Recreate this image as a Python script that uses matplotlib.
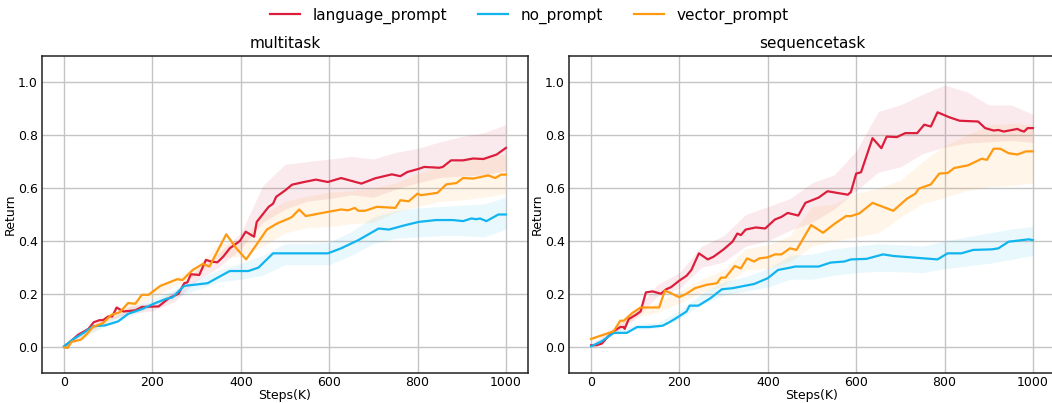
import matplotlib
matplotlib.use("Agg")
import matplotlib.pyplot as plt

# ---------------- data ----------------
series_names = ["language_prompt", "no_prompt", "vector_prompt"]
panel_titles = ["multitask", "sequencetask"]
x_ticks = [0, 200, 400, 600, 800, 1000]
y_ticks = [0.0, 0.2, 0.4, 0.6, 0.8, 1.0]

# multitask: mean curves
mt_lang_x = [0, 15, 32, 46, 55, 67, 80, 88, 100, 109, 119, 134, 161, 176, 214, 237, 259, 272, 279,
             287, 306, 321, 333, 347, 360, 375, 398, 411, 430, 436, 463, 473, 480, 501, 516, 543,
             570, 597, 627, 673, 704, 742, 761, 777, 803, 815, 849, 857, 876, 903, 926, 949, 979, 1000]
mt_lang_y = [0.0, 0.02, 0.045, 0.058, 0.067, 0.092, 0.10, 0.10, 0.114, 0.114, 0.148, 0.133, 0.137,
             0.15, 0.152, 0.183, 0.20, 0.24, 0.243, 0.274, 0.271, 0.328, 0.322, 0.319, 0.34, 0.372,
             0.40, 0.435, 0.416, 0.472, 0.529, 0.541, 0.567, 0.592, 0.613, 0.623, 0.632, 0.623,
             0.638, 0.617, 0.637, 0.652, 0.645, 0.661, 0.673, 0.68, 0.677, 0.68, 0.705, 0.705,
             0.712, 0.71, 0.727, 0.752]

mt_none_x = [0, 19, 46, 65, 92, 122, 145, 176, 207, 230, 245, 272, 295, 325, 352, 375, 417, 440,
             473, 597, 627, 666, 712, 735, 773, 803, 842, 880, 903, 922, 933, 941, 956, 983, 1000]
mt_none_y = [0.001, 0.026, 0.054, 0.077, 0.08, 0.095, 0.124, 0.142, 0.165, 0.18, 0.186, 0.23,
             0.234, 0.24, 0.265, 0.286, 0.286, 0.299, 0.353, 0.353, 0.372, 0.403, 0.447, 0.443,
             0.46, 0.472, 0.479, 0.479, 0.475, 0.485, 0.482, 0.485, 0.475, 0.5, 0.5]

mt_vec_x = [0, 8, 17, 38, 50, 65, 88, 107, 126, 145, 161, 176, 191, 218, 256, 268, 291, 314, 329,
            367, 390, 412, 428, 459, 482, 509, 516, 532, 547, 597, 627, 643, 658, 666, 681, 708,
            750, 761, 780, 800, 807, 845, 865, 888, 903, 926, 960, 976, 989, 1000]
mt_vec_y = [-0.003, -0.005, 0.018, 0.026, 0.045, 0.074, 0.089, 0.12, 0.13, 0.165, 0.162, 0.196,
            0.196, 0.23, 0.255, 0.252, 0.29, 0.313, 0.303, 0.425, 0.372, 0.33, 0.368, 0.443,
            0.466, 0.485, 0.491, 0.519, 0.494, 0.51, 0.519, 0.516, 0.525, 0.514, 0.514, 0.529,
            0.525, 0.554, 0.55, 0.579, 0.573, 0.582, 0.614, 0.619, 0.638, 0.636, 0.648, 0.638,
            0.651, 0.651]

# sequencetask: mean curves
st_lang_x = [0, 12, 24, 39, 51, 66, 74, 76, 85, 101, 112, 124, 139, 158, 170, 181, 200, 216, 227,
             244, 264, 277, 300, 320, 331, 339, 350, 373, 394, 416, 431, 445, 469, 485, 515, 535,
             581, 588, 600, 611, 637, 657, 669, 692, 711, 738, 754, 769, 784, 811, 834, 876, 892,
             911, 922, 934, 965, 972, 980, 988, 1000]
st_lang_y = [0.005, 0.005, 0.011, 0.039, 0.058, 0.074, 0.074, 0.067, 0.104, 0.12, 0.133, 0.205,
             0.209, 0.2, 0.217, 0.225, 0.25, 0.268, 0.29, 0.353, 0.33, 0.34, 0.368, 0.397, 0.428,
             0.422, 0.443, 0.451, 0.447, 0.481, 0.491, 0.506, 0.496, 0.544, 0.564, 0.588, 0.575,
             0.585, 0.655, 0.66, 0.789, 0.751, 0.795, 0.793, 0.808, 0.808, 0.84, 0.833, 0.887,
             0.868, 0.855, 0.852, 0.827, 0.818, 0.82, 0.814, 0.824, 0.818, 0.814, 0.827, 0.827]

st_none_x = [0, 24, 51, 81, 104, 131, 162, 177, 193, 216, 223, 243, 270, 296, 320, 369, 400, 423,
             454, 462, 515, 542, 573, 588, 623, 661, 684, 730, 784, 807, 838, 865, 907, 922, 945,
             991, 1000]
st_none_y = [0.001, 0.02, 0.052, 0.052, 0.074, 0.074, 0.079, 0.092, 0.108, 0.133, 0.155, 0.155,
             0.183, 0.217, 0.221, 0.237, 0.259, 0.29, 0.3, 0.303, 0.303, 0.318, 0.322, 0.33,
             0.332, 0.349, 0.343, 0.337, 0.33, 0.353, 0.353, 0.366, 0.368, 0.372, 0.397, 0.406,
             0.403]

st_vec_x = [0, 51, 66, 74, 93, 112, 154, 167, 181, 199, 216, 235, 262, 285, 294, 304, 325, 339,
            353, 369, 381, 400, 416, 431, 450, 465, 498, 525, 552, 577, 588, 607, 637, 684, 715,
            734, 742, 769, 788, 807, 822, 853, 884, 896, 911, 926, 945, 965, 984, 1000]
st_vec_y = [0.029, 0.058, 0.098, 0.098, 0.127, 0.148, 0.148, 0.212, 0.202, 0.187, 0.2, 0.221,
            0.234, 0.24, 0.261, 0.261, 0.305, 0.296, 0.334, 0.322, 0.334, 0.338, 0.349, 0.349,
            0.372, 0.366, 0.46, 0.431, 0.466, 0.494, 0.494, 0.504, 0.544, 0.514, 0.56, 0.579,
            0.598, 0.614, 0.655, 0.657, 0.676, 0.686, 0.711, 0.707, 0.749, 0.749, 0.732, 0.727,
            0.739, 0.739]

# spread bands (lower / upper) sampled every 50K steps
band_x = [0, 50, 100, 150, 200, 250, 300, 350, 400, 450, 500, 550, 600, 650, 700, 750, 800, 850,
          900, 950, 1000]

mt_lang_lo = [0.0, 0.05, 0.10, 0.125, 0.135, 0.17, 0.25, 0.30, 0.37, 0.47, 0.52, 0.55, 0.56,
              0.575, 0.565, 0.595, 0.62, 0.64, 0.645, 0.65, 0.665]
mt_lang_hi = [0.005, 0.07, 0.12, 0.155, 0.165, 0.21, 0.29, 0.355, 0.43, 0.61, 0.69, 0.70, 0.71,
              0.72, 0.71, 0.735, 0.75, 0.775, 0.795, 0.81, 0.84]
mt_none_lo = [0.0, 0.045, 0.08, 0.115, 0.15, 0.185, 0.215, 0.245, 0.255, 0.27, 0.31, 0.31, 0.31,
              0.345, 0.39, 0.41, 0.415, 0.42, 0.42, 0.415, 0.445]
mt_none_hi = [0.0, 0.065, 0.10, 0.145, 0.18, 0.215, 0.255, 0.29, 0.315, 0.345, 0.39, 0.39, 0.395,
              0.435, 0.49, 0.515, 0.525, 0.53, 0.535, 0.54, 0.565]
mt_vec_lo = [0.0, 0.035, 0.095, 0.135, 0.185, 0.23, 0.27, 0.34, 0.34, 0.38, 0.43, 0.45, 0.455,
             0.465, 0.47, 0.51, 0.53, 0.55, 0.555, 0.565, 0.58]
mt_vec_hi = [0.0, 0.055, 0.125, 0.165, 0.215, 0.26, 0.30, 0.39, 0.40, 0.50, 0.55, 0.57, 0.585,
             0.59, 0.60, 0.62, 0.655, 0.68, 0.705, 0.72, 0.73]

st_lang_lo = [0.0, 0.045, 0.105, 0.19, 0.22, 0.30, 0.32, 0.38, 0.40, 0.44, 0.47, 0.52, 0.59,
              0.66, 0.68, 0.73, 0.755, 0.77, 0.775, 0.78, 0.773]
st_lang_hi = [0.01, 0.07, 0.135, 0.235, 0.28, 0.38, 0.42, 0.50, 0.53, 0.56, 0.62, 0.65, 0.74,
              0.89, 0.915, 0.955, 0.99, 0.965, 0.915, 0.915, 0.88]
st_none_lo = [0.0, 0.045, 0.065, 0.07, 0.105, 0.16, 0.195, 0.21, 0.225, 0.255, 0.255, 0.27, 0.28,
              0.285, 0.283, 0.28, 0.295, 0.305, 0.315, 0.33, 0.345]
st_none_hi = [0.002, 0.06, 0.083, 0.09, 0.135, 0.2, 0.245, 0.265, 0.295, 0.345, 0.35, 0.37, 0.38,
              0.39, 0.385, 0.38, 0.40, 0.415, 0.43, 0.445, 0.455]
st_vec_lo = [0.025, 0.05, 0.11, 0.13, 0.165, 0.205, 0.23, 0.29, 0.295, 0.32, 0.38, 0.40, 0.415,
             0.43, 0.49, 0.54, 0.565, 0.59, 0.605, 0.61, 0.62]
st_vec_hi = [0.033, 0.066, 0.14, 0.165, 0.21, 0.255, 0.29, 0.37, 0.385, 0.42, 0.53, 0.54, 0.58,
             0.60, 0.63, 0.70, 0.76, 0.80, 0.84, 0.845, 0.84]

colors = ["#dc1e3c", "#10b4ee", "#ff9a10"]

panels = [
    [(mt_lang_x, mt_lang_y, mt_lang_lo, mt_lang_hi),
     (mt_none_x, mt_none_y, mt_none_lo, mt_none_hi),
     (mt_vec_x, mt_vec_y, mt_vec_lo, mt_vec_hi)],
    [(st_lang_x, st_lang_y, st_lang_lo, st_lang_hi),
     (st_none_x, st_none_y, st_none_lo, st_none_hi),
     (st_vec_x, st_vec_y, st_vec_lo, st_vec_hi)],
]

# ---------------- figure ----------------
W, H = 1052, 403
fig = plt.figure(figsize=(W / 100, H / 100), dpi=100)
ax_boxes = [(42, 56, 486, 317), (569, 56, 486, 317)]

handles = []
for p, (left, top, w, h) in enumerate(ax_boxes):
    ax = fig.add_axes([left / W, (H - top - h) / H, w / W, h / H])
    for s, (xs, ys, lo, hi) in enumerate(panels[p]):
        ax.fill_between(band_x, lo, hi, color=colors[s], alpha=0.09, linewidth=0)
    for s, (xs, ys, lo, hi) in enumerate(panels[p]):
        ln, = ax.plot(xs, ys, color=colors[s], linewidth=1.6, label=series_names[s])
        if p == 0:
            handles.append(ln)
    ax.set_xlim(-50, 1050)
    ax.set_ylim(-0.1, 1.1)
    ax.set_xticks(x_ticks)
    ax.set_yticks(y_ticks)
    ax.set_yticklabels([f"{v:.1f}" for v in y_ticks])
    ax.tick_params(length=0, labelsize=9)
    ax.tick_params(axis="x", pad=2.5)
    ax.tick_params(axis="y", pad=3)
    ax.grid(True, color="#c4c4c4", linewidth=1.0)
    ax.set_axisbelow(True)
    for sp in ax.spines.values():
        sp.set_color("#222222")
        sp.set_linewidth(1.1)
    ax.set_title(panel_titles[p], fontsize=11, pad=6)
    ax.set_xlabel("Steps(K)", fontsize=9, labelpad=0)
    ax.set_ylabel("Return", fontsize=9, labelpad=1)

fig.legend(handles=handles, labels=series_names, loc="upper center",
           bbox_to_anchor=(0.503, 1.015), ncol=3, frameon=False, fontsize=11,
           handlelength=2.0, columnspacing=2.0)

fig.savefig("out.png", dpi=100)
